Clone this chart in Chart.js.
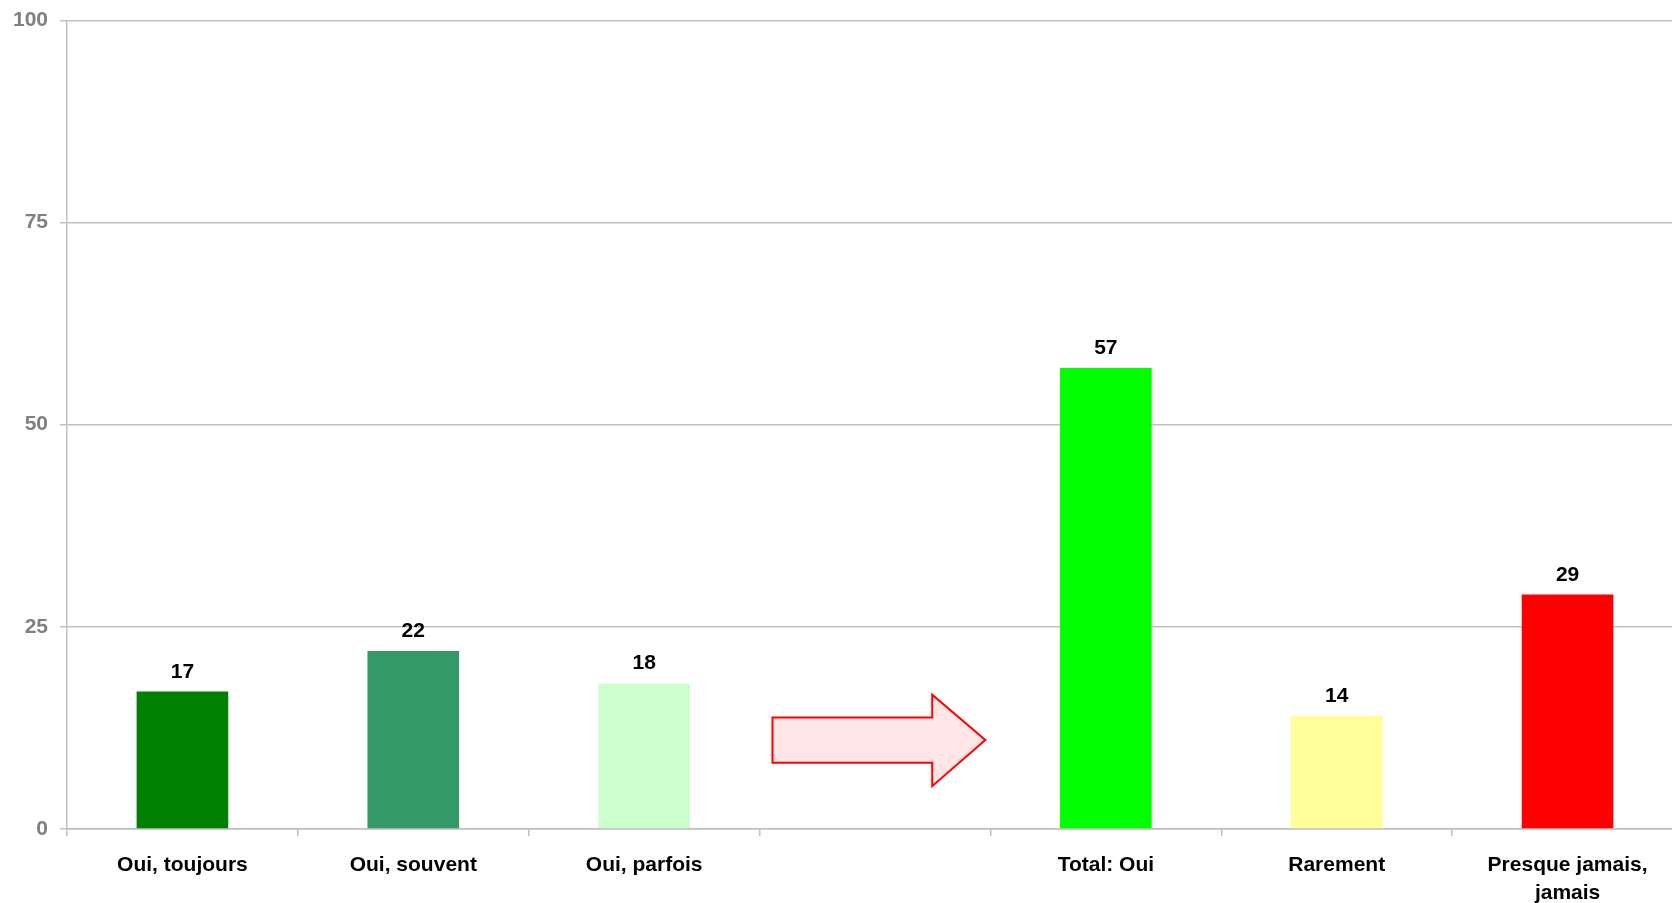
<!DOCTYPE html>
<html>
<head>
<meta charset="utf-8">
<title>Oui / Rarement / Jamais</title>
<script src="https://cdn.jsdelivr.net/npm/chart.js@4/dist/chart.umd.min.js"></script>
<style>
html, body { margin: 0; padding: 0; background: #fff; overflow: hidden; }
.chart-box { position: absolute; left: 0; top: 0; width: 1684px; height: 903px; }
</style>
</head>
<body>
<div class="chart-box"><canvas id="myChart"></canvas></div>
<script>
const categories = ["Oui, toujours", "Oui, souvent", "Oui, parfois", "", "Total: Oui", "Rarement", ["Presque jamais,", "jamais"]];
const values = [17, 22, 18, null, 57, 14, 29];
const barColors = ["#008000", "#339966", "#CCFFCC", "#FFFFFF", "#00FF00", "#FFFF99", "#FF0000"];
const yTicks = [0, 25, 50, 75, 100];

const FONT = "'Liberation Sans', Arial, sans-serif";
const GRID = "#C0C0C0";

// value labels above each bar
const valueLabels = {
    id: "valueLabels",
    afterDatasetsDraw(chart) {
        const ctx = chart.ctx;
        const meta = chart.getDatasetMeta(0);
        ctx.save();
        ctx.font = "bold 21px " + FONT;
        ctx.fillStyle = "#000";
        ctx.textAlign = "center";
        ctx.textBaseline = "alphabetic";
        meta.data.forEach(function (bar, i) {
            if (values[i] == null) return;
            ctx.fillText(String(values[i]), bar.x, bar.y - 14);
        });
        ctx.restore();
    }
};

// the red arrow sitting in the empty slot
const arrow = {
    id: "arrow",
    afterDatasetsDraw(chart) {
        const x = chart.scales.x, y = chart.scales.y;
        const slot = values.indexOf(null);
        const cx = x.getPixelForValue(slot);
        const w = x.getPixelForValue(1) - x.getPixelForValue(0);
        const left = cx - 0.444 * w, neck = cx + 0.248 * w, tip = cx + 0.478 * w;
        const headTop = y.getPixelForValue(16.6), shaftTop = y.getPixelForValue(13.8);
        const mid = y.getPixelForValue(11.0);
        const shaftBot = y.getPixelForValue(8.2), headBot = y.getPixelForValue(5.3);
        const ctx = chart.ctx;
        ctx.save();
        ctx.beginPath();
        ctx.moveTo(left, shaftTop);
        ctx.lineTo(neck, shaftTop);
        ctx.lineTo(neck, headTop);
        ctx.lineTo(tip, mid);
        ctx.lineTo(neck, headBot);
        ctx.lineTo(neck, shaftBot);
        ctx.lineTo(left, shaftBot);
        ctx.closePath();
        ctx.fillStyle = "#FFE5E5";
        ctx.fill();
        ctx.lineWidth = 2;
        ctx.strokeStyle = "#FF0000";
        ctx.lineJoin = "miter";
        ctx.stroke();
        ctx.restore();
    }
};

const ctx = document.getElementById("myChart");
const myChart = new Chart(ctx, {
    type: "bar",
    data: {
        labels: categories,
        datasets: [{
            data: values,
            backgroundColor: barColors,
            borderWidth: 0,
            barPercentage: 1,
            categoryPercentage: 0.397
        }]
    },
    options: {
        responsive: true,
        maintainAspectRatio: false,
        animation: false,
        layout: { padding: { top: 20, right: 1, bottom: 0, left: 0 } },
        plugins: {
            legend: { display: false },
            tooltip: { enabled: false }
        },
        scales: {
            x: {
                grid: { display: true, drawOnChartArea: false, offset: true, tickLength: 7, color: GRID, lineWidth: 1.5 },
                border: { color: GRID, width: 1.5 },
                ticks: {
                    color: "#000",
                    font: { family: FONT, size: 21, weight: "bold", lineHeight: 1.3 },
                    padding: 16,
                    maxRotation: 0,
                    autoSkip: false
                },
                afterFit(scale) { scale.height = 74; }
            },
            y: {
                min: 0,
                max: 100,
                afterBuildTicks(scale) { scale.ticks = yTicks.map(v => ({ value: v })); },
                grid: { color: GRID, tickLength: 7, lineWidth: 1.5 },
                border: { color: GRID, width: 1.5 },
                ticks: {
                    color: "#808080",
                    font: { family: FONT, size: 21, weight: "bold", lineHeight: 0.8 },
                    padding: 12
                },
                afterFit(scale) { scale.width = 67; }
            }
        }
    },
    plugins: [valueLabels, arrow]
});
</script>
</body>
</html>
